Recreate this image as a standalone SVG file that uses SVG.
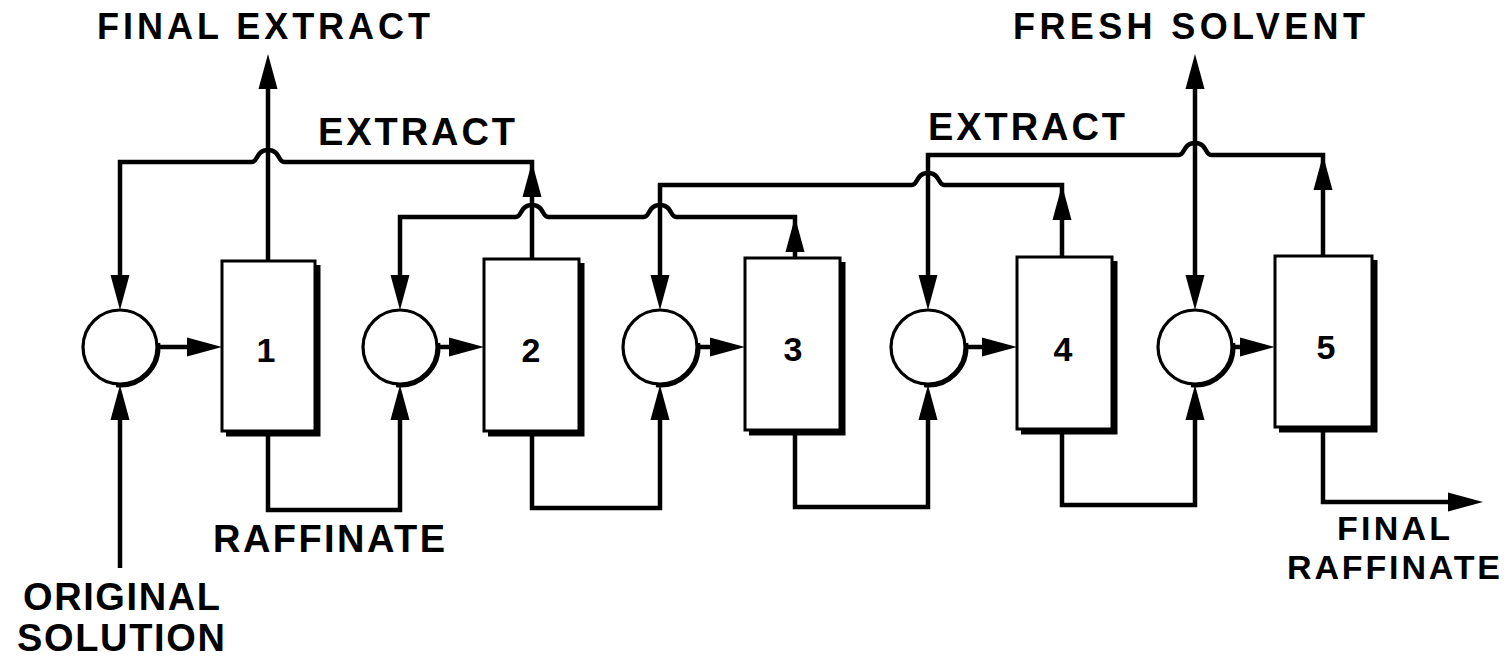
<svg xmlns="http://www.w3.org/2000/svg" xmlns:xlink="http://www.w3.org/1999/xlink" width="1510" height="660" viewBox="0 0 1510 660">
  <style>
    .ln { fill: none; stroke: #000; stroke-width: 4.5; stroke-linejoin: miter; }
    .box { fill: #fff; stroke: #000; stroke-width: 3; }
    .shadow { fill: none; stroke: #000; stroke-width: 5; }
    .mix { fill: #fff; stroke: #000; stroke-width: 3.2; }
    .lbl { font-family: "Liberation Sans", Arial, sans-serif; font-weight: bold; font-size: 38px; fill: #000; }
    .top { font-size: 36px; }
    .sm { font-size: 34px; }
    .num { font-family: "Liberation Sans", Arial, sans-serif; font-weight: bold; font-size: 34px; fill: #000; text-anchor: middle; }
    .ah { fill: #000; }
  </style>
  <defs>
    <!-- arrowhead, tip at origin pointing along +x -->
    <path id="ah" d="M0,0 L-35,-9.5 L-35,9.5 Z"/>
    <!-- lower-right shading arc for a mixer circle centred at origin -->
    <path id="mixShade" d="M38.5,-4 A38.5,38.5 0 0 1 -4,38.5" fill="none" stroke="#000" stroke-width="3.5"/>
  </defs>

  <rect width="1510" height="660" fill="#fff"/>

  <!-- connectors -->
  <g id="connectors">
    <!-- final extract out of stage 1 -->
    <path class="ln" d="M268,261 V70"/>
    <!-- extract from stage 2 back to mixer 1 -->
    <path class="ln" d="M532,259 V162 H284 C278,162 280,150 268,150 C256,150 258,162 252,162 H120 V300"/>
    <!-- extract from stage 3 back to mixer 2 -->
    <path class="ln" d="M795,259 V217 H676 C670,217 672,205 660,205 C648,205 650,217 644,217 H548 C542,217 544,205 532,205 C520,205 522,217 516,217 H400 V300"/>
    <!-- extract from stage 4 back to mixer 3 -->
    <path class="ln" d="M1062,258 V185 H944 C938,185 940,173 928,173 C916,173 918,185 912,185 H660 V300"/>
    <!-- extract from stage 5 back to mixer 4 -->
    <path class="ln" d="M1323,257 V155 H1211 C1205,155 1207,143 1195,143 C1183,143 1185,155 1179,155 H928 V300"/>
    <!-- fresh solvent line -->
    <path class="ln" d="M1195,70 V300"/>

    <!-- mixer to stage feeds -->
    <path class="ln" d="M157,347 H212"/>
    <path class="ln" d="M437,347 H474"/>
    <path class="ln" d="M697,347 H735"/>
    <path class="ln" d="M965,347 H1007"/>
    <path class="ln" d="M1232,347 H1265"/>

    <!-- original solution feed -->
    <path class="ln" d="M120,568 V394"/>
    <!-- raffinate forward lines -->
    <path class="ln" d="M268,432 V510 H400 V394"/>
    <path class="ln" d="M532,432 V508 H660 V394"/>
    <path class="ln" d="M795,431 V507 H928 V394"/>
    <path class="ln" d="M1062,431 V505 H1195 V394"/>
    <!-- final raffinate -->
    <path class="ln" d="M1323,430 V502 H1473"/>

    <!-- arrowheads -->
    <use href="#ah" class="ah" transform="translate(268,54) rotate(-90)"/>
    <use href="#ah" class="ah" transform="translate(1195,54) rotate(-90)"/>
    <use href="#ah" class="ah" transform="translate(532,162) rotate(-90)"/>
    <use href="#ah" class="ah" transform="translate(795,217) rotate(-90)"/>
    <use href="#ah" class="ah" transform="translate(1062,185) rotate(-90)"/>
    <use href="#ah" class="ah" transform="translate(1323,155) rotate(-90)"/>

    <use href="#ah" class="ah" transform="translate(120,310) rotate(90)"/>
    <use href="#ah" class="ah" transform="translate(400,310) rotate(90)"/>
    <use href="#ah" class="ah" transform="translate(660,310) rotate(90)"/>
    <use href="#ah" class="ah" transform="translate(928,310) rotate(90)"/>
    <use href="#ah" class="ah" transform="translate(1195,310) rotate(90)"/>

    <use href="#ah" class="ah" transform="translate(120,385) rotate(-90)"/>
    <use href="#ah" class="ah" transform="translate(400,385) rotate(-90)"/>
    <use href="#ah" class="ah" transform="translate(660,385) rotate(-90)"/>
    <use href="#ah" class="ah" transform="translate(928,385) rotate(-90)"/>
    <use href="#ah" class="ah" transform="translate(1195,385) rotate(-90)"/>

    <use href="#ah" class="ah" transform="translate(222,347)"/>
    <use href="#ah" class="ah" transform="translate(484,347)"/>
    <use href="#ah" class="ah" transform="translate(745,347)"/>
    <use href="#ah" class="ah" transform="translate(1017,347)"/>
    <use href="#ah" class="ah" transform="translate(1275,347)"/>

    <use href="#ah" class="ah" transform="translate(1483,502)"/>
  </g>

  <!-- mixers -->
  <g id="mixer1">
    <circle class="mix" cx="120" cy="347" r="37"/>
    <use href="#mixShade" transform="translate(120,347)"/>
  </g>
  <g id="mixer2">
    <circle class="mix" cx="400" cy="347" r="37"/>
    <use href="#mixShade" transform="translate(400,347)"/>
  </g>
  <g id="mixer3">
    <circle class="mix" cx="660" cy="347" r="37"/>
    <use href="#mixShade" transform="translate(660,347)"/>
  </g>
  <g id="mixer4">
    <circle class="mix" cx="928" cy="347" r="37"/>
    <use href="#mixShade" transform="translate(928,347)"/>
  </g>
  <g id="mixer5">
    <circle class="mix" cx="1195" cy="347" r="37"/>
    <use href="#mixShade" transform="translate(1195,347)"/>
  </g>

  <!-- settling stages -->
  <g id="stage1">
    <rect class="box" x="222" y="261" width="93" height="170"/>
    <path class="shadow" d="M318,265 V434 H226"/>
    <text class="num" x="266" y="362">1</text>
  </g>
  <g id="stage2">
    <rect class="box" x="484" y="259" width="95" height="172"/>
    <path class="shadow" d="M582,263 V434 H488"/>
    <text class="num" x="531" y="362">2</text>
  </g>
  <g id="stage3">
    <rect class="box" x="745" y="258" width="95" height="172"/>
    <path class="shadow" d="M843,262 V433 H749"/>
    <text class="num" x="793" y="361">3</text>
  </g>
  <g id="stage4">
    <rect class="box" x="1017" y="257" width="95" height="172"/>
    <path class="shadow" d="M1115,261 V432 H1021"/>
    <text class="num" x="1063" y="361">4</text>
  </g>
  <g id="stage5">
    <rect class="box" x="1275" y="256" width="97" height="171"/>
    <path class="shadow" d="M1375,260 V430 H1279"/>
    <text class="num" x="1326" y="359">5</text>
  </g>

  <!-- stream labels -->
  <g id="labels">
    <text class="lbl top" x="97" y="39" textLength="333" lengthAdjust="spacing">FINAL EXTRACT</text>
    <text class="lbl top" x="1013" y="39" textLength="352" lengthAdjust="spacing">FRESH SOLVENT</text>
    <text class="lbl" x="318" y="145" textLength="197" lengthAdjust="spacing">EXTRACT</text>
    <text class="lbl" x="928" y="140" textLength="197" lengthAdjust="spacing">EXTRACT</text>
    <text class="lbl" x="213" y="552" textLength="232" lengthAdjust="spacing">RAFFINATE</text>
    <text class="lbl" x="23" y="610" textLength="197" lengthAdjust="spacing">ORIGINAL</text>
    <text class="lbl" x="17" y="651" textLength="208" lengthAdjust="spacing">SOLUTION</text>
    <text class="lbl sm" x="1337" y="540" textLength="113" lengthAdjust="spacing">FINAL</text>
    <text class="lbl sm" x="1287" y="579" textLength="213" lengthAdjust="spacing">RAFFINATE</text>
  </g>
</svg>
